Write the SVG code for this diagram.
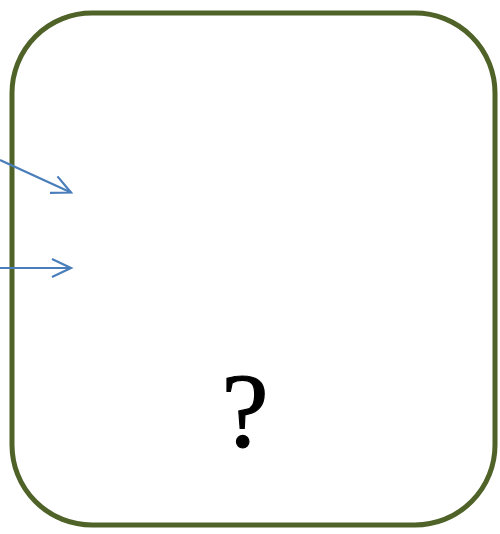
<svg xmlns="http://www.w3.org/2000/svg" width="500" height="534" viewBox="0 0 500 534">
<style>
.node{fill:#ffffff;stroke:#4f6228;stroke-width:5}
.conn{stroke:#4a7ebb;stroke-width:2.2;fill:none}
.lbl{font-family:"Liberation Serif","DejaVu Serif",serif;font-size:106px;fill:#000000;stroke:#000000;stroke-width:1.2;text-anchor:middle}
</style>
<defs>
<marker id="arr" markerUnits="userSpaceOnUse" markerWidth="30" markerHeight="30" viewBox="-25 -15 30 30" refX="0" refY="0" orient="auto">
<path d="M-19,-9 L0,0 L-19,9" fill="none" stroke="#4a7ebb" stroke-width="2.2"/>
</marker>
</defs>
<g id="node-box">
<rect class="node" x="12" y="13" width="483" height="512" rx="80" ry="80"/>
<text class="lbl" x="245" y="447">?</text>
</g>
<g id="connectors">
<line class="conn" x1="0" y1="160" x2="71" y2="192.5" marker-end="url(#arr)"/>
<line class="conn" x1="0" y1="268" x2="71" y2="268" marker-end="url(#arr)"/>
</g>
</svg>
